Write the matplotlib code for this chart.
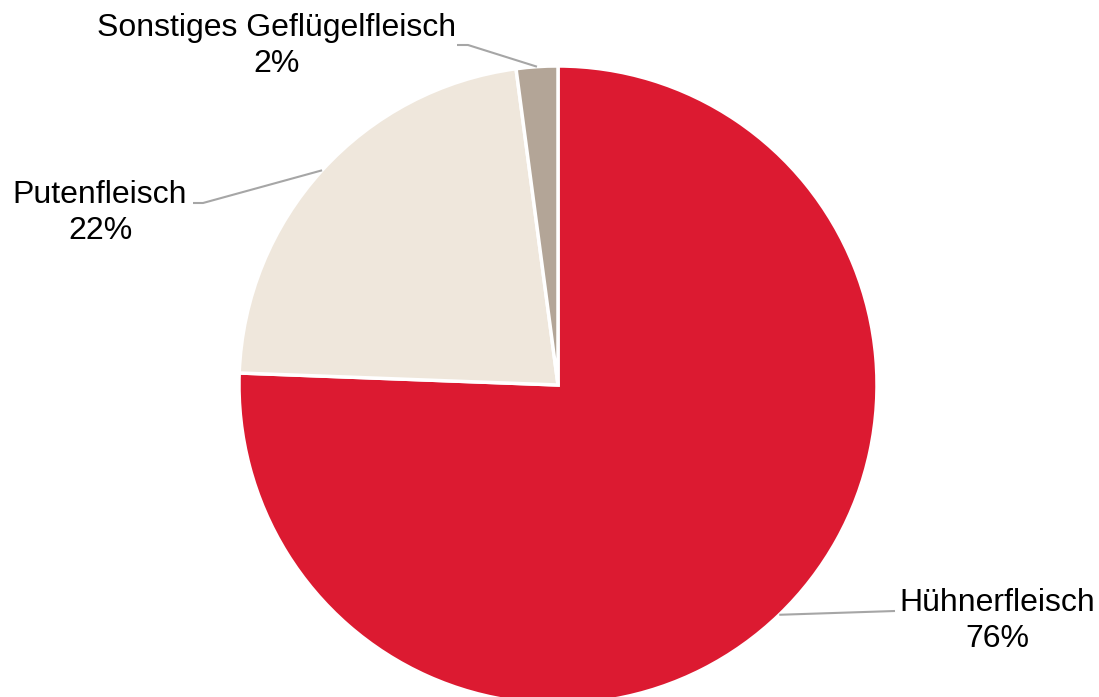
import numpy as np
import matplotlib.pyplot as plt

plt.rcParams['font.family'] = ['Liberation Sans', 'DejaVu Sans']

# Daten
labels = ['Hühnerfleisch', 'Putenfleisch', 'Sonstiges Geflügelfleisch']
values = [75.6, 22.3, 2.1]
shown = ['76%', '22%', '2%']
colors = ['#DC1A31', '#EFE7DC', '#B3A597']

W, H = 1099, 697
fig = plt.figure(figsize=(W / 100, H / 100), dpi=100)
ax = fig.add_axes([0, 0, 1, 1])

cx, cy, r = 558, H - 385, 319
wedges, _ = ax.pie(values, colors=colors, startangle=90, counterclock=False,
                   center=(cx, cy), radius=r, frame=True,
                   wedgeprops=dict(edgecolor='white', linewidth=2.5))
ax.set_xlim(0, W)
ax.set_ylim(0, H)
ax.set_aspect('equal')
ax.axis('off')

# Beschriftungen (Textposition, Knick, Ende der Linie) in Pixeln von oben
text_pos = [(997, 621), (100, 213), (277, 46)]
elbows = [(895, 611), (203, 203), (468, 45)]
ends = [(895, 611), (193, 203), (457, 45)]

for w, lab, pct, tp, el, en in zip(wedges, labels, shown, text_pos, elbows, ends):
    ang = np.deg2rad((w.theta1 + w.theta2) / 2)
    x0 = cx + r * np.cos(ang)
    y0 = cy + r * np.sin(ang)
    ax.plot([x0, el[0], en[0]], [y0, H - el[1], H - en[1]],
            color='#A6A6A6', lw=1.5, solid_capstyle='butt')
    ax.text(tp[0], H - tp[1], lab + '\n' + pct, ha='center', va='center',
            fontsize=23, color='black', linespacing=1.27)

fig.savefig('out.png', dpi=100)
